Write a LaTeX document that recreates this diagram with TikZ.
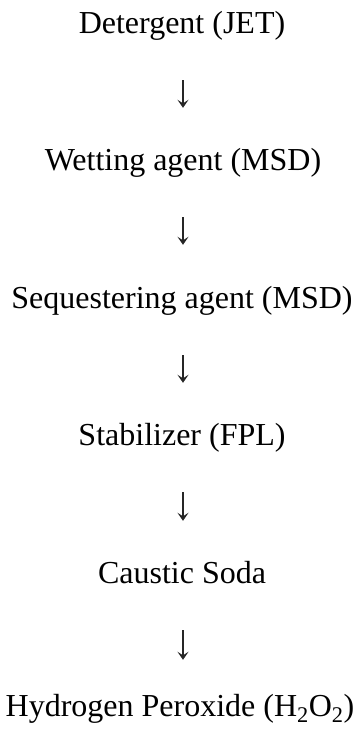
\documentclass[tikz,border=0pt]{standalone}
\usepackage{fontspec}
\setmainfont{Liberation Serif}
\usetikzlibrary{arrows.meta}
\begin{document}
\begin{tikzpicture}[x=1pt,y=1pt,
  stage/.style={anchor=base, inner sep=0pt, font=\fontsize{32}{38}\selectfont, text height=22pt, text depth=7pt},
  flow/.style={-{Stealth[length=8pt,width=11pt,inset=3.5pt]}, line width=1.3pt, black!85, shorten <=40pt}]
\useasboundingbox (0,0) rectangle (357,-729);
\node[stage] (a) at (182,-33) {Detergent (JET)};
\node[stage] (b) at (183,-170) {Wetting agent (MSD)};
\node[stage] (c) at (182,-308) {Sequestering agent (MSD)};
\node[stage] (d) at (182,-445) {Stabilizer (FPL)};
\node[stage] (e) at (182,-583) {Caustic Soda};
\node[stage] (f) at (180,-716) {Hydrogen Peroxide (H\textsubscript{2}O\textsubscript{2})};
\draw[flow, shorten >=40pt] (a.south -| 183,0) -- (b.north -| 183,0);
\draw[flow, shorten >=41pt] (b.south -| 183,0) -- (c.north -| 183,0);
\draw[flow, shorten >=40pt] (c.south -| 183,0) -- (d.north -| 183,0);
\draw[flow, shorten >=40pt] (d.south -| 183,0) -- (e.north -| 183,0);
\draw[flow, shorten >=34pt] (e.south -| 183,0) -- (f.north -| 183,0);
\end{tikzpicture}
\end{document}
